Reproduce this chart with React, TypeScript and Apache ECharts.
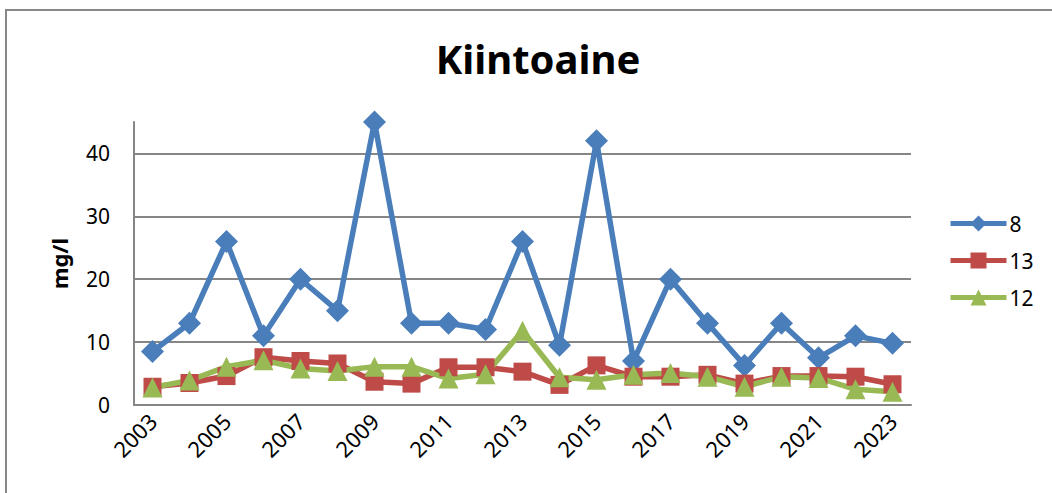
import React, { useEffect, useRef } from "react";
import * as echarts from "echarts";

const years = ["2003","2004","2005","2006","2007","2008","2009","2010","2011","2012","2013","2014","2015","2016","2017","2018","2019","2020","2021","2022","2023"];
const s8 = [8.5, 13, 26, 11, 20, 15, 45, 13, 13, 12, 26, 9.5, 42, 7, 20, 13, 6.3, 13, 7.5, 11, 9.8];
const s13 = [2.9, 3.5, 4.6, 7.6, 7.0, 6.6, 3.7, 3.4, 6.0, 6.0, 5.3, 3.2, 6.3, 4.5, 4.5, 4.8, 3.4, 4.6, 4.6, 4.5, 3.3];
const s12 = [2.8, 3.9, 6.1, 7.1, 5.8, 5.4, 6.1, 6.1, 4.2, 4.9, 11.8, 4.4, 4.0, 4.8, 5.1, 4.5, 2.9, 4.5, 4.3, 2.5, 2.1];
const seriesNames = ["8", "13", "12"];
const colors = ["#4A7EBB", "#BE4B48", "#98B954"];

export default function App() {
  const ref = useRef<HTMLDivElement>(null);
  useEffect(() => {
    document.body.style.margin = "0";
    const chart = echarts.init(ref.current!, null, { renderer: "svg" });
    const font = "'Noto Sans', sans-serif";
    const mk = (name: string, data: number[], color: string, symbol: string, size: number) => ({
      name,
      type: "line",
      data,
      symbol,
      symbolSize: size,
      lineStyle: { color, width: 5.5 },
      itemStyle: { color },
    });
    chart.setOption({
      animation: false,
      backgroundColor: "#fff",
      title: {
        text: "Kiintoaine",
        left: 533,
        top: 33,
        textAlign: "center",
        textStyle: { fontFamily: font, fontSize: 40, fontWeight: "bold", color: "#000" },
      },
      grid: { left: 134, right: 141, top: 122, bottom: 88, containLabel: false },
      legend: {
        orient: "vertical",
        left: 943,
        top: 208,
        itemWidth: 56,
        itemHeight: 20,
        itemGap: 16,
        lineStyle: { width: 5 },
        textStyle: { fontFamily: font, fontSize: 21, color: "#000", padding: [0, 0, 0, -2] },
        data: seriesNames,
      },
      xAxis: {
        type: "category",
        data: years,
        boundaryGap: true,
        axisLine: { lineStyle: { color: "#868686", width: 2 } },
        axisTick: { alignWithLabel: true, length: 6, lineStyle: { color: "#868686", width: 2 }, interval: 0 },
        axisLabel: { interval: 1, rotate: 45, fontFamily: font, fontSize: 22, color: "#000", margin: 12 },
      },
      yAxis: {
        type: "value",
        min: 0,
        max: 45,
        interval: 10,
        name: "mg/l",
        nameLocation: "middle",
        nameGap: 64,
        nameTextStyle: { fontFamily: font, fontSize: 22, fontWeight: "bold", color: "#000" },
        axisLine: { show: true, lineStyle: { color: "#868686", width: 2 } },
        axisTick: { show: false },
        axisLabel: { showMaxLabel: false, fontFamily: font, fontSize: 21, color: "#000", margin: 24 },
        splitLine: { show: true, showMaxLine: false, lineStyle: { color: "#868686", width: 2 } },
      },
      graphic: [
        {
          type: "rect",
          shape: { x: 6, y: 10, width: 1200, height: 700 },
          style: { fill: "none", stroke: "#888", lineWidth: 2 },
          silent: true,
        },
      ],
      series: [
        mk(seriesNames[0], s8, colors[0], "diamond", 23),
        mk(seriesNames[1], s13, colors[1], "rect", 18),
        mk(seriesNames[2], s12, colors[2], "triangle", 20),
      ],
    });
    return () => chart.dispose();
  }, []);
  return <div ref={ref} style={{ width: 1052, height: 493 }} />;
}
